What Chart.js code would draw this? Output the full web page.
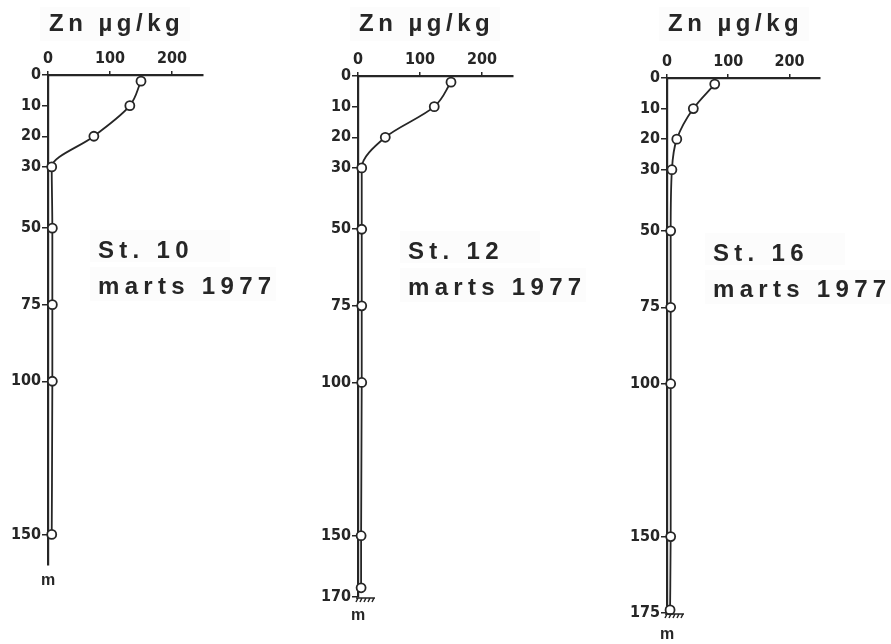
<!DOCTYPE html>
<html>
<head>
<meta charset="utf-8">
<script src="https://cdn.jsdelivr.net/npm/chart.js@4"></script>
<style>
  body { margin: 0; background: #fff; }
  #wrap { position: relative; width: 891px; height: 644px; overflow: hidden; }
  canvas { position: absolute; top: 0; }
</style>
</head>
<body>
<div id="wrap">
  <canvas id="st10" width="297" height="644" style="left:0px"></canvas>
  <canvas id="st12" width="297" height="644" style="left:297px"></canvas>
  <canvas id="st16" width="297" height="644" style="left:594px"></canvas>
</div>
<script>
// Zn profiles, marts 1977 (depth in m, Zn in µg/kg)
const unitLabel = "Zn µg/kg"
const periodLabel = "marts 1977"
const depthUnit = "m"
const xTicks = [0, 100, 200]

const depths10 = [2, 10, 20, 30, 50, 75, 100, 150]
const zn10 = [150, 132, 74, 6, 7, 7, 7, 6]
const yTicks10 = [0, 10, 20, 30, 50, 75, 100, 150]

const depths12 = [2, 10, 20, 30, 50, 75, 100, 150, 167]
const zn12 = [150, 123, 44, 6, 6, 6, 6, 5, 5]
const yTicks12 = [0, 10, 20, 30, 50, 75, 100, 150, 170]

const depths16 = [2, 10, 20, 30, 50, 75, 100, 150, 174]
const zn16 = [78, 43, 16, 8, 6, 6, 6, 6, 5]
const yTicks16 = [0, 10, 20, 30, 50, 75, 100, 150, 175]

const INK = "#262626"
const tickFont = { family: '"Liberation Sans Narrow", "DejaVu Sans Condensed", sans-serif', size: 16, weight: "bold" }

const notesPlugin = {
  id: "notes",
  afterDraw(chart, args, opts) {
    const ctx = chart.ctx
    const a = chart.chartArea
    const lx = a.left + opts.labelDx
    ctx.save()
    // very faint paste-up boxes behind labels
    ctx.fillStyle = "rgba(0,0,0,0.012)"
    ctx.fillRect(a.left - 8, 7, 150, 34)
    ctx.fillRect(lx - 8, a.top + 155, 140, 32)
    ctx.fillRect(lx - 8, a.top + 192, 186, 34)

    ctx.fillStyle = INK
    ctx.textBaseline = "alphabetic"
    ctx.letterSpacing = "4.5px"
    ctx.font = 'bold 24px "Liberation Sans", Arial, sans-serif'
    ctx.textAlign = "left"
    ctx.fillText(unitLabel, a.left + 1, 31)

    ctx.letterSpacing = "5.3px"
    ctx.fillText(opts.station, lx, a.top + 183)
    ctx.fillText(periodLabel, lx, a.top + 219)

    ctx.letterSpacing = "0px"
    ctx.textAlign = "center"
    ctx.font = 'bold 16px "Liberation Sans Narrow", sans-serif'
    ctx.fillText(depthUnit, a.left, a.bottom + opts.mOffset)

    if (opts.seabed) {
      ctx.strokeStyle = INK
      ctx.lineWidth = 1.5
      ctx.beginPath()
      ctx.moveTo(a.left - 2, a.bottom + 1)
      ctx.lineTo(a.left + 17, a.bottom + 1)
      for (let i = 0; i < 5; i++) {
        const x = a.left + i * 4
        ctx.moveTo(x, a.bottom + 1)
        ctx.lineTo(x - 2, a.bottom + 5)
      }
      ctx.stroke()
    }
    ctx.restore()
  },
}

function makeProfile(id, depths, values, yTicks, yMax, station, box) {
  const canvas = document.getElementById(id)
  return new Chart(canvas, {
    type: "scatter",
    data: {
      datasets: [
        {
          data: depths.map((d, i) => ({ x: values[i], y: d })),
          showLine: true,
          borderColor: INK,
          borderWidth: 1.8,
          cubicInterpolationMode: "monotone",
          pointRadius: 4.5,
          pointBackgroundColor: "#fff",
          pointBorderColor: INK,
          pointBorderWidth: 1.8,
          clip: false,
        },
      ],
    },
    options: {
      indexAxis: "y",
      responsive: false,
      animation: false,
      layout: { padding: { left: 0, top: 0, right: canvas.width - box.right, bottom: canvas.height - box.bottom } },
      plugins: {
        legend: { display: false },
        tooltip: { enabled: false },
        notes: { station, mOffset: box.mOffset, seabed: box.seabed, labelDx: box.labelDx },
      },
      scales: {
        x: {
          type: "linear",
          position: "top",
          min: 0,
          max: 250,
          afterBuildTicks: (s) => { s.ticks = xTicks.map((v) => ({ value: v })) },
          afterFit: (s) => { s.height = box.top },
          ticks: { font: tickFont, color: INK, padding: 3, maxRotation: 0 },
          grid: { drawOnChartArea: false, tickLength: 4, color: INK, lineWidth: 1.5 },
          border: { color: INK, width: 2.2 },
        },
        y: {
          type: "linear",
          position: "left",
          reverse: true,
          min: 0,
          max: yMax,
          afterBuildTicks: (s) => { s.ticks = yTicks.map((v) => ({ value: v })) },
          afterFit: (s) => { s.width = box.left },
          ticks: { font: tickFont, color: INK, padding: 1 },
          grid: { drawOnChartArea: false, tickLength: 6, color: INK, lineWidth: 1.5 },
          border: { color: INK, width: 2.2 },
        },
      },
    },
    plugins: [notesPlugin],
  })
}

makeProfile("st10", depths10, zn10, yTicks10, 160, "St. 10", { left: 48, top: 75, right: 203, bottom: 565, mOffset: 20, seabed: false, labelDx: 50 })
makeProfile("st12", depths12, zn12, yTicks12, 170, "St. 12", { left: 61, top: 76, right: 216, bottom: 597, mOffset: 23, seabed: true, labelDx: 50 })
makeProfile("st16", depths16, zn16, yTicks16, 175, "St. 16", { left: 73, top: 78, right: 226, bottom: 613, mOffset: 26, seabed: true, labelDx: 46 })
</script>
</body>
</html>
